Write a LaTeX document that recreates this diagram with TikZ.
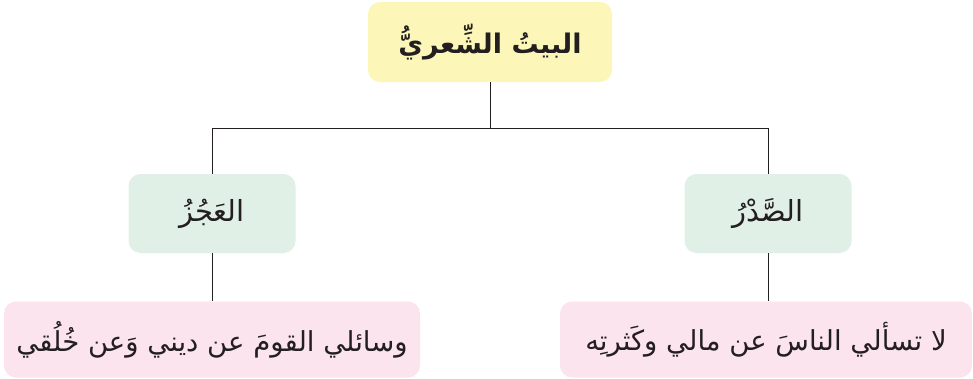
\documentclass[tikz,border=0pt]{standalone}
\usepackage{fontspec}
\TeXXeTstate=1
\newfontfamily\arabicfont[Script=Arabic]{DejaVu Sans}
\definecolor{topfill}{RGB}{252,246,184}
\definecolor{midfill}{RGB}{224,240,230}
\definecolor{leaffill}{RGB}{252,228,238}
\definecolor{linecol}{RGB}{35,31,32}
\begin{document}
\begin{tikzpicture}[x=1pt,y=-1pt,
  boxbase/.style={rounded corners=12pt, inner sep=0pt, align=center, text=linecol},
  topbox/.style={boxbase, fill=topfill, minimum width=244pt, minimum height=80pt, font=\arabicfont\bfseries\fontsize{27}{32}\selectfont},
  midbox/.style={boxbase, fill=midfill, minimum width=167pt, minimum height=79pt, font=\arabicfont\fontsize{29}{34}\selectfont},
  leafbox/.style={boxbase, fill=leaffill, minimum height=76pt, font=\arabicfont\fontsize{27.5}{32}\selectfont},
  conn/.style={draw=linecol, line width=0.9pt}]
\useasboundingbox (0,0) rectangle (973,378);
\node[topbox] (top) at (490,42) {\beginR البيتُ الشِّعريُّ\endR};
\node[midbox] (lg) at (212,213.5) {\beginR العَجُزُ\endR};
\node[midbox] (rg) at (768,213.5) {\beginR الصَّدْرُ\endR};
\node[leafbox, minimum width=416pt] (lp) at (212,339.5) {\beginR وسائلي القومَ عن ديني وَعن خُلُقي\endR};
\node[leafbox, minimum width=412pt] (rp) at (766,339.5) {\beginR لا تسألي الناسَ عن مالي وكَثرتِه\endR};
\coordinate (j) at (490,128);
\draw[conn] (top.south) -- (j);
\draw[conn] (lg.north) -- (lg.north |- j) -- (rg.north |- j) -- (rg.north);
\draw[conn] (lg.south) -- (lg.south |- lp.north);
\draw[conn] (rg.south) -- (rg.south |- rp.north);
\end{tikzpicture}
\end{document}
